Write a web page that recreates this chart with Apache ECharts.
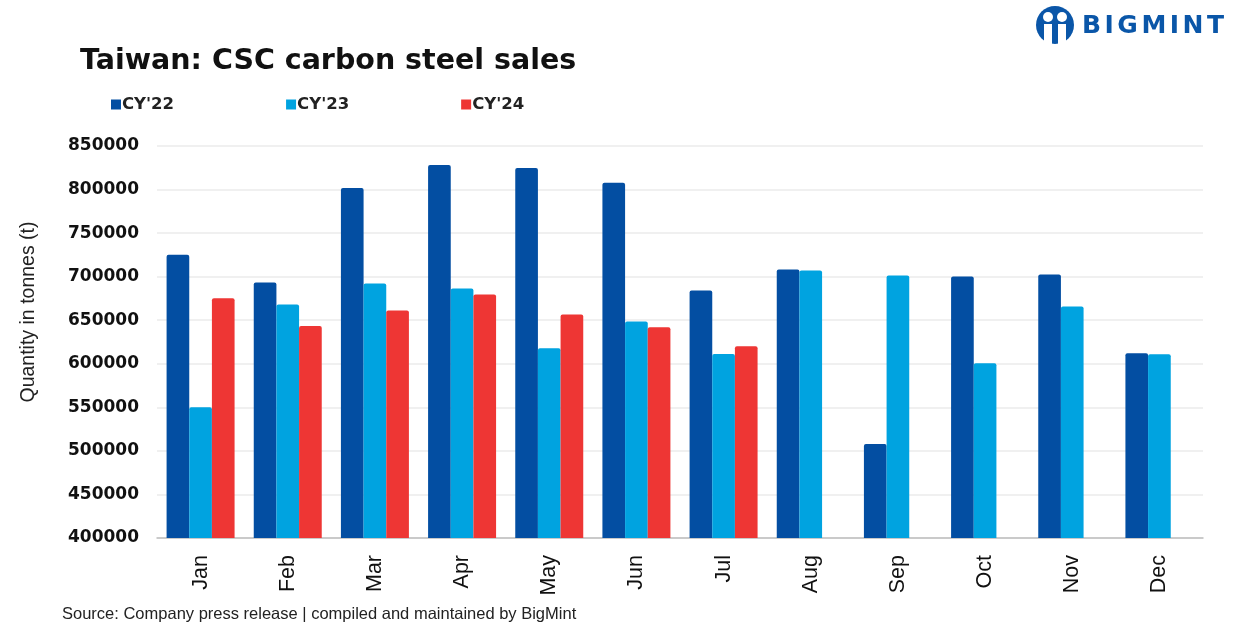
<!DOCTYPE html>
<html><head><meta charset="utf-8">
<script src="https://cdn.jsdelivr.net/npm/echarts@6/dist/echarts.min.js"></script>
<style>html,body{margin:0;padding:0;background:#fff}#c{width:1241px;height:630px}</style>
</head><body><div id="c"></div>
<script>
const months = ['Jan','Feb','Mar','Apr','May','Jun','Jul','Aug','Sep','Oct','Nov','Dec'];
const cy22 = [725300, 693300, 801900, 828300, 824800, 807700, 684100, 708100, 507900, 700100, 702400, 612000];
const cy23 = [550200, 668100, 692100, 686400, 617700, 648600, 611200, 707000, 701300, 600600, 665800, 610900];
const cy24 = [675300, 643300, 661200, 679400, 656600, 641800, 620000, null, null, null, null, null];
const seriesNames = ["CY'22", "CY'23", "CY'24"];
const colors = ['#034EA2', '#00A3E0', '#EE3634'];
const yTicks = {min: 400000, max: 850000, interval: 50000};

const chart = echarts.init(document.getElementById('c'));
const font = '"Liberation Sans", Arial, sans-serif';
const wide = '"DejaVu Sans", sans-serif';

// logo letters
const logoText = 'BIGMINT';
const logoGraphics = [];
(function(){
  const c = document.createElement('canvas').getContext('2d');
  c.font = 'bold 25px "DejaVu Sans", sans-serif';
  let x = 1082;
  for (const ch of logoText) {
    logoGraphics.push({type: 'text', x: x, y: 14, style: {text: ch, font: 'bold 25px "DejaVu Sans", sans-serif', fill: '#0A56A8'}});
    x += c.measureText(ch).width + 3.5;
  }
})();

chart.setOption({
  animation: false,
  title: {text: 'Taiwan: CSC carbon steel sales', left: 75, top: 42,
    textStyle: {fontFamily: wide, fontSize: 28.5, fontWeight: 'bold', color: '#111'}},
  legend: {left: 106, top: 91, itemWidth: 10, itemHeight: 10, itemGap: 112, icon: 'rect',
    textStyle: {fontFamily: wide, fontSize: 16.5, fontWeight: 'bold', color: '#222', padding: [0,0,0,-4]},
    data: seriesNames},
  grid: {left: 157, right: 38, top: 146, bottom: 92, containLabel: false},
  xAxis: {type: 'category', data: months,
    axisLine: {lineStyle: {color: '#BDBDBD', width: 1.5}}, axisTick: {show: false},
    axisLabel: {rotate: 90, fontFamily: font, fontSize: 21.5, color: '#111', margin: 17}},
  yAxis: {type: 'value', min: yTicks.min, max: yTicks.max, interval: yTicks.interval,
    axisLabel: {fontFamily: wide, fontSize: 17, fontWeight: 'bold', color: '#111', margin: 18,
      formatter: v => String(v)},
    splitLine: {lineStyle: {color: '#EBEBEB', width: 1.5}}},
  series: seriesNames.map((n, i) => ({
    name: n, type: 'bar', data: [cy22, cy23, cy24][i],
    itemStyle: {color: colors[i], borderRadius: [2,2,0,0]},
    barGap: '0%', barCategoryGap: '22%'
  })),
  graphic: [
    {type: 'text', x: 29, y: 312, rotation: Math.PI / 2,
      style: {text: 'Quantity in tonnes (t)', font: '19.5px "Liberation Sans", Arial, sans-serif', fill: '#222',
        align: 'center', verticalAlign: 'middle'}},
    {type: 'text', left: 62, top: 606, style: {text: 'Source: Company press release | compiled and maintained by BigMint',
      font: '16.5px "Liberation Sans", Arial, sans-serif', fill: '#222'}},
    {type: 'circle', shape: {cx: 1055, cy: 25, r: 19}, style: {fill: '#0A56A8'}},
    {type: 'circle', shape: {cx: 1048, cy: 17, r: 5}, style: {fill: '#fff'}},
    {type: 'circle', shape: {cx: 1062, cy: 17, r: 5}, style: {fill: '#fff'}},
    {type: 'rect', shape: {x: 1044, y: 24, width: 8, height: 20}, style: {fill: '#fff'}},
    {type: 'rect', shape: {x: 1058, y: 24, width: 8, height: 20}, style: {fill: '#fff'}}
  ].concat(logoGraphics)
});
</script></body></html>
